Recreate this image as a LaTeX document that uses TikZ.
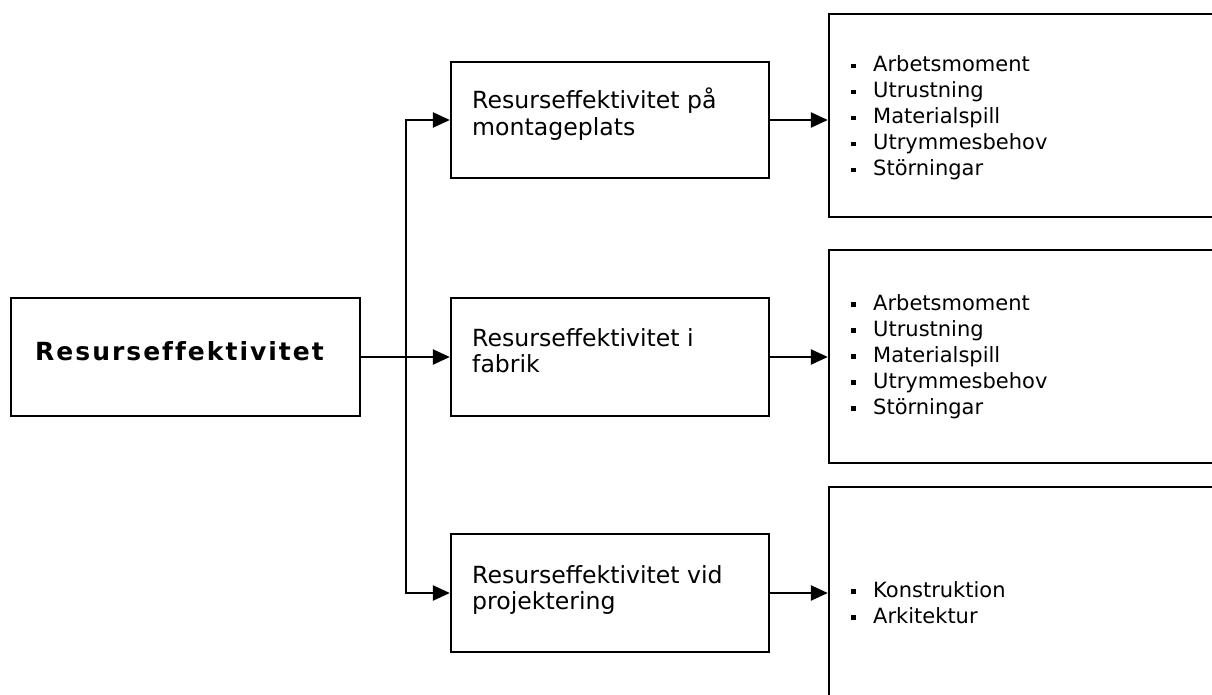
\documentclass[tikz,border=0pt]{standalone}
\usepackage{fontspec}
\setmainfont{DejaVu Sans}
\newfontfamily\headfont[LetterSpace=8,Ligatures=NoCommon]{DejaVu Sans}
\usetikzlibrary{arrows.meta}

% square list marker followed by the item text
\newcommand\sqitem{\makebox[22pt][l]{\rule[3.5pt]{4.5pt}{4.5pt}}}

\begin{document}
\begin{tikzpicture}[x=1pt,y=-1pt,
  box/.style={draw, line width=2.3pt, rectangle, inner sep=0pt},
  link/.style={line width=2.3pt, -{Triangle[length=17pt,width=15pt]}},
  midtext/.style={anchor=base west, inner sep=0pt, font=\fontsize{23.6}{26.5}\selectfont},
  listtext/.style={anchor=base west, inner sep=0pt, font=\fontsize{21}{26}\selectfont}]

\useasboundingbox (0,0) rectangle (1212,695);
\fill[white] (0,0) rectangle (1212,695);
\clip (0,0) rectangle (1212,695);

% main box
\node[box, minimum width=349pt, minimum height=118pt] (main) at (185.5,357) {};
\node[anchor=base west, inner sep=0pt, font=\fontsize{25}{28}\selectfont] (maintext) at (35,360)
  {\headfont\bfseries Resurseffektivitet};

% middle column
\node[box, minimum width=318pt, minimum height=116pt] (m1) at (610,120) {};
\node[box, minimum width=318pt, minimum height=118pt] (m2) at (610,357) {};
\node[box, minimum width=318pt, minimum height=118pt] (m3) at (610,593) {};

\node[midtext] (t1) at (472,109)
  {\begin{tabular}[t]{@{}l@{}}Resurseffektivitet på\\montageplats\end{tabular}};
\node[midtext] (t2) at (472,346)
  {\begin{tabular}[t]{@{}l@{}}Resurseffektivitet i\\fabrik\end{tabular}};
\node[midtext] (t3) at (472,583)
  {\begin{tabular}[t]{@{}l@{}}Resurseffektivitet vid\\projektering\end{tabular}};

% right column (runs past the right edge)
\node[box, minimum width=421pt, minimum height=203pt] (r1) at (1039.5,115.5) {};
\node[box, minimum width=421pt, minimum height=213pt] (r2) at (1039.5,356.5) {};
\node[box, minimum width=421pt, minimum height=253pt] (r3) at (1039.5,613.5) {};

\node[listtext] (lst1) at (851,72)
  {\begin{tabular}[t]{@{}l@{}}\sqitem Arbetsmoment\\\sqitem Utrustning\\\sqitem Materialspill\\\sqitem Utrymmesbehov\\\sqitem Störningar\end{tabular}};
\node[listtext] (lst2) at (851,310)
  {\begin{tabular}[t]{@{}l@{}}\sqitem Arbetsmoment\\\sqitem Utrustning\\\sqitem Materialspill\\\sqitem Utrymmesbehov\\\sqitem Störningar\end{tabular}};
\node[listtext] (lst3) at (851,597)
  {\begin{tabular}[t]{@{}l@{}}\sqitem Konstruktion\\\sqitem Arkitektur\end{tabular}};

% connectors
\coordinate (bus) at (406,357);
\draw[link] (main.east) -- (m2.west);
\draw[link] (m3.west -| bus) -- (m1.west -| bus) -- (m1.west);
\draw[link] (m1.west -| bus) -- (m3.west -| bus) -- (m3.west);

\draw[link] (m1.east) -- (m1.east -| r1.west);
\draw[link] (m2.east) -- (m2.east -| r2.west);
\draw[link] (m3.east) -- (m3.east -| r3.west);
\end{tikzpicture}
\end{document}
